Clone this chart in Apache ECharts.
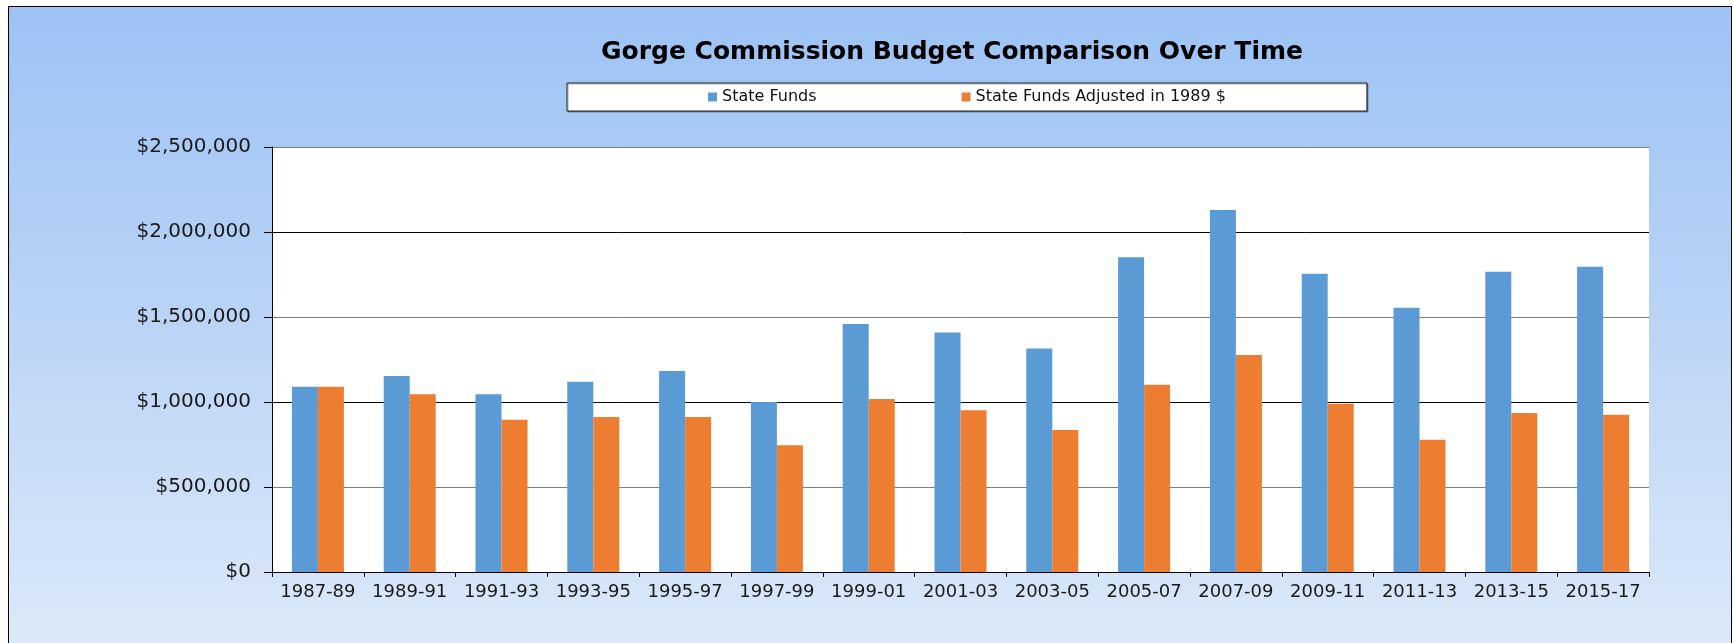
<!DOCTYPE html>
<html>
<head>
<meta charset="utf-8">
<title>Gorge Commission Budget Comparison Over Time</title>
<script src="https://cdn.jsdelivr.net/npm/echarts@6/dist/echarts.min.js"></script>
<style>
  html, body {
    margin: 0;
    padding: 0;
    background: #fff;
    overflow: hidden;
  }
  #frame {
    position: absolute;
    left: 8px;
    top: 6px;
    width: 1722px;
    height: 660px;
    border: 1px solid #000;
    background: linear-gradient(to bottom, #9cc3f5 0%, #b9d3f6 45%, #deeaf9 100%);
  }
  #chart {
    position: absolute;
    left: 0;
    top: 0;
    width: 1733px;
    height: 643px;
  }
</style>
</head>
<body>
<div id="frame"></div>
<div id="chart"></div>
<script>
  const periods = ['1987-89', '1989-91', '1991-93', '1993-95', '1995-97', '1997-99', '1999-01', '2001-03',
    '2003-05', '2005-07', '2007-09', '2009-11', '2011-13', '2013-15', '2015-17']

  const stateFunds = [1090000, 1153000, 1045000, 1119000, 1182000, 1000000, 1459000, 1409000,
    1314000, 1851000, 2129000, 1755000, 1555000, 1766000, 1796000]

  const adjustedFunds = [1090000, 1045000, 896000, 912000, 912000, 745000, 1018000, 951000,
    835000, 1102000, 1276000, 990000, 778000, 935000, 925000]

  const seriesNames = ['State Funds', 'State Funds Adjusted in 1989 $']

  const font = 'DejaVu Sans'

  // $1,000,000 style labels
  const money = (v) => '$' + Number(v).toLocaleString('en-US')

  const chart = echarts.init(document.getElementById('chart'))

  const option = {
    backgroundColor: 'transparent',
    animation: false,
    title: {
      text: 'Gorge Commission Budget Comparison Over Time',
      left: 952,
      top: 40,
      padding: 0,
      textAlign: 'center',
      textStyle: {
        fontFamily: font,
        fontWeight: 'bold',
        fontSize: 25,
        color: '#000'
      }
    },
    legend: {
      left: 567,
      top: 83,
      padding: [5, 141, 5, 141],
      itemWidth: 9,
      itemHeight: 9,
      itemGap: 145,
      icon: 'rect',
      backgroundColor: '#fff',
      borderColor: '#222',
      borderWidth: 1,
      shadowColor: 'rgba(0, 0, 0, 0.35)',
      shadowOffsetX: 1,
      shadowOffsetY: 1,
      textStyle: {
        fontFamily: font,
        fontSize: 16,
        lineHeight: 18,
        color: '#111'
      },
      data: seriesNames
    },
    grid: {
      left: 272,
      right: 84,
      top: 147,
      bottom: 71,
      show: true,
      backgroundColor: '#fff',
      borderWidth: 0
    },
    xAxis: {
      type: 'category',
      data: periods,
      axisLine: { lineStyle: { color: '#000', width: 1 } },
      axisTick: { show: true, length: 5, interval: 0, lineStyle: { color: '#000' } },
      axisLabel: {
        interval: 0,
        margin: 11,
        fontFamily: font,
        fontSize: 18,
        color: '#1a1a1a'
      }
    },
    yAxis: {
      type: 'value',
      min: 0,
      max: 2500000,
      interval: 500000,
      axisLine: { show: true, lineStyle: { color: '#000', width: 1 } },
      axisTick: { show: true, length: 8, lineStyle: { color: '#000' } },
      axisLabel: {
        margin: 21,
        fontFamily: font,
        fontSize: 20,
        color: '#1a1a1a',
        formatter: money
      },
      splitLine: {
        show: true,
        lineStyle: { color: ['#000', '#7f7f7f'], width: 1 }
      }
    },
    series: [
      {
        name: seriesNames[0],
        type: 'bar',
        data: stateFunds,
        barWidth: 26,
        barGap: '0%',
        itemStyle: { color: '#5b9bd5' }
      },
      {
        name: seriesNames[1],
        type: 'bar',
        data: adjustedFunds,
        barWidth: 26,
        itemStyle: { color: '#ed7d31' }
      }
    ]
  }

  chart.setOption(option)
</script>
</body>
</html>
